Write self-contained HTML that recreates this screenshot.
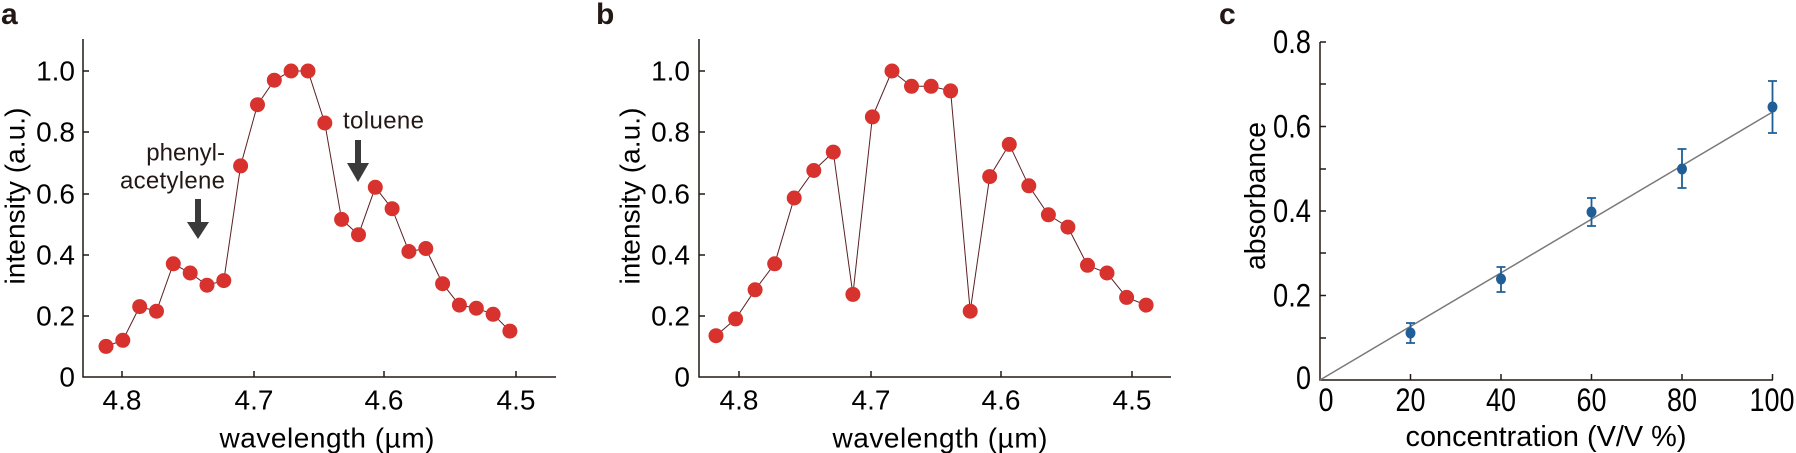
<!DOCTYPE html>
<html><head><meta charset="utf-8"><style>
html,body{margin:0;padding:0;background:#fff;}
svg{display:block;font-family:"Liberation Sans",Arial,sans-serif;}
</style></head><body>
<svg width="1796" height="453" viewBox="0 0 1796 453" xmlns="http://www.w3.org/2000/svg">
<g fill="#231815">
<text x="1" y="24" font-size="30" font-weight="bold">a</text>
<text x="596" y="24" font-size="30" font-weight="bold">b</text>
<text x="1219" y="24" font-size="30" font-weight="bold">c</text>
</g>

<!-- Panel a -->
<g stroke="#231815" stroke-width="1.5" fill="none">
<path d="M83,39 V377 H556"/>
<path d="M83,316 h6 M83,255 h6 M83,194 h6 M83,132 h6 M83,71 h6"/>
<path d="M122,377 v-6 M254,377 v-6 M384,377 v-6 M516,377 v-6"/>
</g>
<g font-size="28" fill="#000" text-anchor="end" dominant-baseline="central">
<text x="75" y="377">0</text><text x="75" y="316">0.2</text><text x="75" y="255">0.4</text>
<text x="75" y="194">0.6</text><text x="75" y="132">0.8</text><text x="75" y="71">1.0</text>
</g>
<g font-size="28" fill="#000" text-anchor="middle" dominant-baseline="central">
<text x="122" y="400">4.8</text><text x="254" y="400">4.7</text><text x="384" y="400">4.6</text><text x="516" y="400">4.5</text>
<text x="327" y="438" textLength="215">wavelength (µm)</text>
<text transform="translate(15,196) rotate(-90)" textLength="177">intensity (a.u.)</text>
</g>
<g font-size="24" fill="#231815" dominant-baseline="central">
<text x="225" y="153" text-anchor="end">phenyl-</text>
<text x="225" y="181" text-anchor="end" textLength="105">acetylene</text>
<text x="343" y="121" textLength="81">toluene</text>
</g>
<g fill="#3a3a3a">
<rect x="195" y="199" width="6" height="24"/><polygon points="187,222 209,222 198,239"/>
<rect x="355" y="140" width="6" height="24"/><polygon points="347,163 369,163 358,182"/>
</g>
<polyline fill="none" stroke="#5a2024" stroke-width="1" points="106,346.4 122.8,340.3 139.7,306.6 156.5,311.2 173.3,263.8 190.2,273 207,285.2 223.8,280.6 240.6,165.9 257.5,104.7 274.3,80.2 291.1,71 308,71 324.8,123 341.6,219.4 358.5,234.7 375.3,187.3 392.1,208.7 408.9,251.5 425.8,248.5 442.6,283.7 459.4,305.1 476.3,308.2 493.1,314.3 509.9,331.1"/>
<g fill="#d7322d">
<circle cx="106" cy="346.4" r="7.5"/><circle cx="122.8" cy="340.3" r="7.5"/><circle cx="139.7" cy="306.6" r="7.5"/><circle cx="156.5" cy="311.2" r="7.5"/><circle cx="173.3" cy="263.8" r="7.5"/><circle cx="190.2" cy="273" r="7.5"/><circle cx="207" cy="285.2" r="7.5"/><circle cx="223.8" cy="280.6" r="7.5"/><circle cx="240.6" cy="165.9" r="7.5"/><circle cx="257.5" cy="104.7" r="7.5"/><circle cx="274.3" cy="80.2" r="7.5"/><circle cx="291.1" cy="71" r="7.5"/><circle cx="308" cy="71" r="7.5"/><circle cx="324.8" cy="123" r="7.5"/><circle cx="341.6" cy="219.4" r="7.5"/><circle cx="358.5" cy="234.7" r="7.5"/><circle cx="375.3" cy="187.3" r="7.5"/><circle cx="392.1" cy="208.7" r="7.5"/><circle cx="408.9" cy="251.5" r="7.5"/><circle cx="425.8" cy="248.5" r="7.5"/><circle cx="442.6" cy="283.7" r="7.5"/><circle cx="459.4" cy="305.1" r="7.5"/><circle cx="476.3" cy="308.2" r="7.5"/><circle cx="493.1" cy="314.3" r="7.5"/><circle cx="509.9" cy="331.1" r="7.5"/>
</g>

<!-- Panel b -->
<g stroke="#231815" stroke-width="1.5" fill="none">
<path d="M699,39 V377 H1171"/>
<path d="M699,316 h6 M699,255 h6 M699,194 h6 M699,132 h6 M699,71 h6"/>
<path d="M739,377 v-6 M871,377 v-6 M1001,377 v-6 M1132,377 v-6"/>
</g>
<g font-size="28" fill="#000" text-anchor="end" dominant-baseline="central">
<text x="690" y="377">0</text><text x="690" y="316">0.2</text><text x="690" y="255">0.4</text>
<text x="690" y="194">0.6</text><text x="690" y="132">0.8</text><text x="690" y="71">1.0</text>
</g>
<g font-size="28" fill="#000" text-anchor="middle" dominant-baseline="central">
<text x="739" y="400">4.8</text><text x="871" y="400">4.7</text><text x="1001" y="400">4.6</text><text x="1132" y="400">4.5</text>
<text x="940" y="438" textLength="215">wavelength (µm)</text>
<text transform="translate(630,196) rotate(-90)" textLength="177">intensity (a.u.)</text>
</g>
<polyline fill="none" stroke="#5a2024" stroke-width="1" points="716,335.7 735.6,318.9 755.1,289.8 774.7,263.8 794.2,198 813.8,170.5 833.3,152.1 852.9,294.4 872.4,116.9 892,71 911.5,86.3 931.1,86.3 950.6,90.9 970.2,311.2 989.7,176.6 1009.3,144.4 1028.8,185.8 1048.4,214.8 1067.9,227.1 1087.5,265.3 1107,273 1126.6,297.4 1146.1,305.1"/>
<g fill="#d7322d">
<circle cx="716" cy="335.7" r="7.5"/><circle cx="735.6" cy="318.9" r="7.5"/><circle cx="755.1" cy="289.8" r="7.5"/><circle cx="774.7" cy="263.8" r="7.5"/><circle cx="794.2" cy="198" r="7.5"/><circle cx="813.8" cy="170.5" r="7.5"/><circle cx="833.3" cy="152.1" r="7.5"/><circle cx="852.9" cy="294.4" r="7.5"/><circle cx="872.4" cy="116.9" r="7.5"/><circle cx="892" cy="71" r="7.5"/><circle cx="911.5" cy="86.3" r="7.5"/><circle cx="931.1" cy="86.3" r="7.5"/><circle cx="950.6" cy="90.9" r="7.5"/><circle cx="970.2" cy="311.2" r="7.5"/><circle cx="989.7" cy="176.6" r="7.5"/><circle cx="1009.3" cy="144.4" r="7.5"/><circle cx="1028.8" cy="185.8" r="7.5"/><circle cx="1048.4" cy="214.8" r="7.5"/><circle cx="1067.9" cy="227.1" r="7.5"/><circle cx="1087.5" cy="265.3" r="7.5"/><circle cx="1107" cy="273" r="7.5"/><circle cx="1126.6" cy="297.4" r="7.5"/><circle cx="1146.1" cy="305.1" r="7.5"/>
</g>

<!-- Panel c -->
<g stroke="#231815" stroke-width="1.5" fill="none">
<path d="M1320,42 V380 H1773"/>
<path d="M1320,42 h6 M1320,84 h6 M1320,126.5 h6 M1320,169 h6 M1320,211 h6 M1320,253 h6 M1320,295.5 h6 M1320,338 h6"/>
<path d="M1410.5,380 v-6 M1501,380 v-6 M1591.5,380 v-6 M1682,380 v-6 M1772.5,380 v-6"/>
</g>
<g font-size="32" fill="#000" text-anchor="end" dominant-baseline="central" lengthAdjust="spacingAndGlyphs">
<text x="1311" y="378" textLength="15" lengthAdjust="spacingAndGlyphs">0</text>
<text x="1311" y="295.5" textLength="38" lengthAdjust="spacingAndGlyphs">0.2</text>
<text x="1311" y="211" textLength="38" lengthAdjust="spacingAndGlyphs">0.4</text>
<text x="1311" y="126.5" textLength="38" lengthAdjust="spacingAndGlyphs">0.6</text>
<text x="1311" y="42" textLength="38" lengthAdjust="spacingAndGlyphs">0.8</text>
</g>
<g font-size="32" fill="#000" text-anchor="middle" dominant-baseline="central">
<text x="1326" y="400" textLength="15" lengthAdjust="spacingAndGlyphs">0</text>
<text x="1410.5" y="400" textLength="30" lengthAdjust="spacingAndGlyphs">20</text>
<text x="1501" y="400" textLength="30" lengthAdjust="spacingAndGlyphs">40</text>
<text x="1591.5" y="400" textLength="30" lengthAdjust="spacingAndGlyphs">60</text>
<text x="1682" y="400" textLength="30" lengthAdjust="spacingAndGlyphs">80</text>
<text x="1772" y="400" textLength="45" lengthAdjust="spacingAndGlyphs">100</text>
</g>
<g font-size="29" fill="#000" text-anchor="middle" dominant-baseline="central">
<text x="1546" y="437" textLength="281" lengthAdjust="spacingAndGlyphs">concentration (V/V %)</text>
<text transform="translate(1256,196) rotate(-90)" textLength="148" lengthAdjust="spacingAndGlyphs">absorbance</text>
</g>
<line x1="1320" y1="380" x2="1772.5" y2="112" stroke="#7a7a7a" stroke-width="1.5"/>
<g stroke="#1f5e97" stroke-width="1.8" fill="none">
<path d="M1410.5,323 V343 M1406,323 h9 M1406,343 h9"/>
<path d="M1501,267 V292 M1496.5,267 h9 M1496.5,292 h9"/>
<path d="M1591.5,198 V226 M1587,198 h9 M1587,226 h9"/>
<path d="M1682,149 V188 M1677.5,149 h9 M1677.5,188 h9"/>
<path d="M1772.5,81 V133 M1768,81 h9 M1768,133 h9"/>
</g>
<g fill="#1f5e97">
<ellipse cx="1410.5" cy="333" rx="5" ry="5.5"/><ellipse cx="1501" cy="279" rx="5" ry="5.5"/><ellipse cx="1591.5" cy="212" rx="5" ry="5.5"/><ellipse cx="1682" cy="169" rx="5" ry="5.5"/><ellipse cx="1772.5" cy="107" rx="5" ry="5.5"/>
</g>
</svg>
</body></html>
